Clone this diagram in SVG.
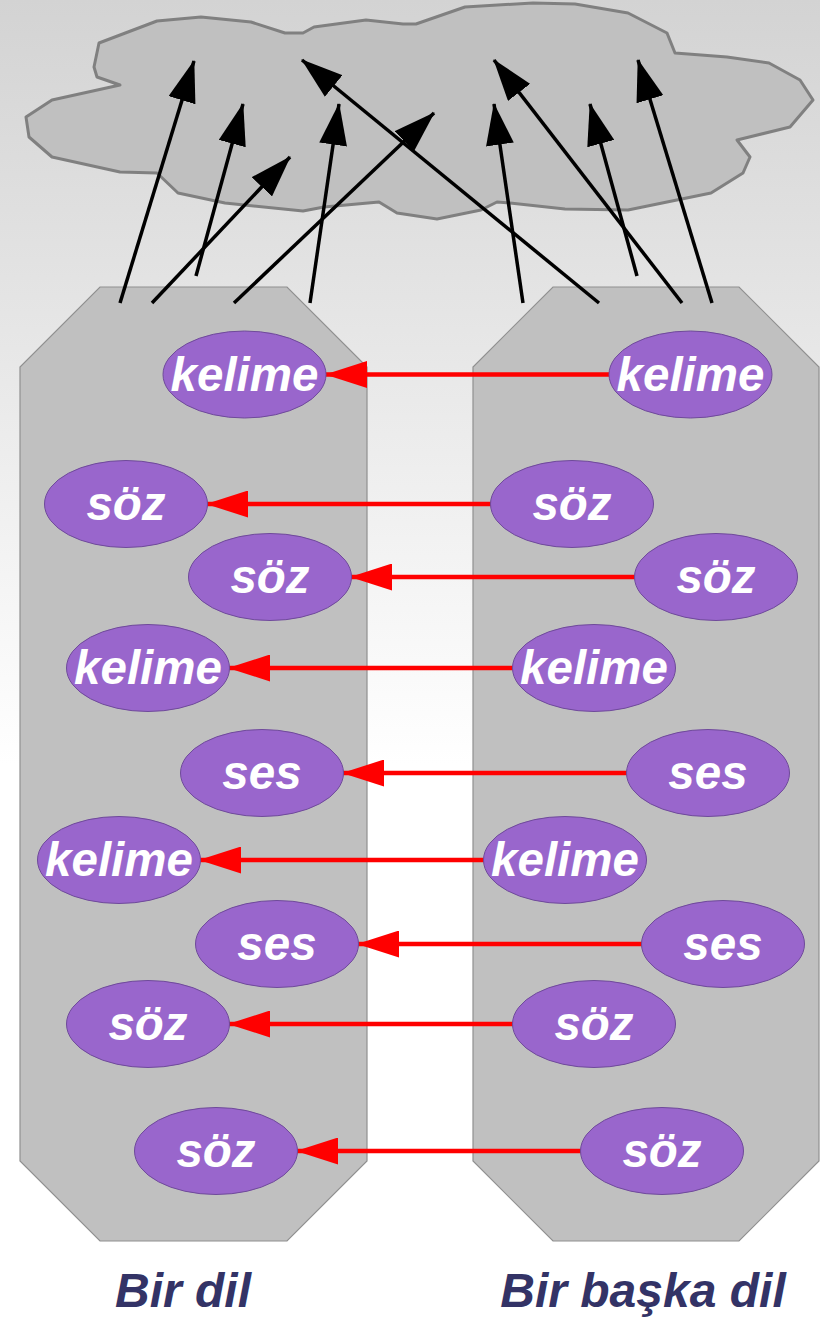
<svg xmlns="http://www.w3.org/2000/svg" width="820" height="1319" viewBox="0 0 820 1319">
  <defs>
    <linearGradient id="bg" x1="0" y1="0" x2="0" y2="1">
      <stop offset="0" stop-color="#d3d3d3"/>
      <stop offset="0.58" stop-color="#ffffff"/>
      <stop offset="1" stop-color="#ffffff"/>
    </linearGradient>
    <marker id="redHead" viewBox="0 0 42 27" refX="41" refY="13.5" markerWidth="42" markerHeight="27" markerUnits="userSpaceOnUse" orient="auto">
      <path d="M0,0 L42,13.5 L0,27 Z" fill="#ff0000"/>
    </marker>
    <marker id="bh" viewBox="0 0 42 28" refX="41" refY="14" markerWidth="42" markerHeight="28" markerUnits="userSpaceOnUse" orient="auto">
      <path d="M0,0 L42,14 L0,28 Z" fill="#000"/>
    </marker>
  </defs>
  <style>
    .panel { fill: #c0c0c0; stroke: #909090; stroke-width: 1.2; }
    .cloud { fill: #c0c0c0; stroke: #808080; stroke-width: 3; stroke-linejoin: round; }
    .node ellipse { fill: #9966cc; stroke: #6f4a9a; stroke-width: 1; }
    .node text { font-family: "Liberation Sans", Arial, sans-serif; font-weight: bold; font-style: italic; font-size: 47.5px; fill: #ffffff; text-anchor: middle; }
    .up { stroke: #000; stroke-width: 3.5; fill: none; marker-end: url(#bh); }
    .xl { stroke: #ff0000; stroke-width: 4.5; fill: none; marker-end: url(#redHead); }
    .label { font-family: "Liberation Sans", Arial, sans-serif; font-weight: bold; font-style: italic; font-size: 48px; fill: #333366; text-anchor: middle; }
  </style>

  <rect x="0" y="0" width="820" height="1319" fill="url(#bg)"/>

  <!-- shared meaning cloud -->
  <g id="cloud">
    <path class="cloud" d="M99,43 L157,21 L201,17 L251,22 L285,33 L303,33 L314,27 L366,20 L403,24 L416,24 L465,7 L533,3 L575,4 L628,13 L667,33 L675,53 L727,57 L769,63 L800,80 L813,100 L790,127 L737,140 L750,157 L743,173 L711,193 L628,210 L565,209 L510,203 L497,202 L481,210 L437,219 L397,213 L379,202 L324,207 L303,211 L225,203 L178,193 L157,173 L120,172 L52,157 L29,137 L26,117 L52,100 L120,85 L97,77 L94,67 Z"/>
  </g>

  <!-- language panels -->
  <g id="panel-left">
    <polygon class="panel" points="100,287 287,287 367,367 367,1161 287,1241 100,1241 20,1161 20,367"/>
  </g>
  <g id="panel-right">
    <polygon class="panel" points="553,287 739,287 819,367 819,1161 739,1241 553,1241 473,1161 473,367"/>
  </g>

  <!-- connectors -->
  <g id="connectors">
    <!-- panels up to the cloud -->
    <line class="up" x1="120" y1="303" x2="194" y2="61"/>
    <line class="up" x1="196" y1="276" x2="243" y2="104"/>
    <line class="up" x1="152" y1="303" x2="290" y2="157"/>
    <line class="up" x1="234" y1="303" x2="434" y2="113"/>
    <line class="up" x1="310" y1="303" x2="339" y2="104"/>
    <line class="up" x1="599" y1="303" x2="302" y2="60"/>
    <line class="up" x1="523" y1="303" x2="494" y2="104"/>
    <line class="up" x1="682" y1="303" x2="494" y2="60"/>
    <line class="up" x1="637" y1="276" x2="590" y2="104"/>
    <line class="up" x1="712" y1="303" x2="638" y2="60"/>
    <!-- word to word -->
    <line class="xl" x1="609" y1="374.5" x2="326" y2="374.5"/>
    <line class="xl" x1="491" y1="504" x2="207" y2="504"/>
    <line class="xl" x1="635" y1="577" x2="351" y2="577"/>
    <line class="xl" x1="513" y1="668" x2="229" y2="668"/>
    <line class="xl" x1="627" y1="773" x2="343" y2="773"/>
    <line class="xl" x1="484" y1="860" x2="200" y2="860"/>
    <line class="xl" x1="642" y1="944" x2="358" y2="944"/>
    <line class="xl" x1="513" y1="1024" x2="229" y2="1024"/>
    <line class="xl" x1="581" y1="1151" x2="297" y2="1151"/>
  </g>

  <!-- left language words -->
  <g id="l1" class="node"><ellipse cx="244.5" cy="374.5" rx="81.5" ry="43.5"/><text x="244.5" y="391">kelime</text></g>
  <g id="l2" class="node"><ellipse cx="126" cy="504" rx="81.5" ry="43.5"/><text x="126" y="520">söz</text></g>
  <g id="l3" class="node"><ellipse cx="270" cy="577" rx="81.5" ry="43.5"/><text x="270" y="593">söz</text></g>
  <g id="l4" class="node"><ellipse cx="148" cy="668" rx="81.5" ry="43.5"/><text x="148" y="684">kelime</text></g>
  <g id="l5" class="node"><ellipse cx="262" cy="773" rx="81.5" ry="43.5"/><text x="262" y="789">ses</text></g>
  <g id="l6" class="node"><ellipse cx="119" cy="860" rx="81.5" ry="43.5"/><text x="119" y="876">kelime</text></g>
  <g id="l7" class="node"><ellipse cx="277" cy="944" rx="81.5" ry="43.5"/><text x="277" y="960">ses</text></g>
  <g id="l8" class="node"><ellipse cx="148" cy="1024" rx="81.5" ry="43.5"/><text x="148" y="1040">söz</text></g>
  <g id="l9" class="node"><ellipse cx="216" cy="1151" rx="81.5" ry="43.5"/><text x="216" y="1167">söz</text></g>

  <!-- other language words -->
  <g id="r1" class="node"><ellipse cx="690.5" cy="374.5" rx="81.5" ry="43.5"/><text x="690.5" y="391">kelime</text></g>
  <g id="r2" class="node"><ellipse cx="572" cy="504" rx="81.5" ry="43.5"/><text x="572" y="520">söz</text></g>
  <g id="r3" class="node"><ellipse cx="716" cy="577" rx="81.5" ry="43.5"/><text x="716" y="593">söz</text></g>
  <g id="r4" class="node"><ellipse cx="594" cy="668" rx="81.5" ry="43.5"/><text x="594" y="684">kelime</text></g>
  <g id="r5" class="node"><ellipse cx="708" cy="773" rx="81.5" ry="43.5"/><text x="708" y="789">ses</text></g>
  <g id="r6" class="node"><ellipse cx="565" cy="860" rx="81.5" ry="43.5"/><text x="565" y="876">kelime</text></g>
  <g id="r7" class="node"><ellipse cx="723" cy="944" rx="81.5" ry="43.5"/><text x="723" y="960">ses</text></g>
  <g id="r8" class="node"><ellipse cx="594" cy="1024" rx="81.5" ry="43.5"/><text x="594" y="1040">söz</text></g>
  <g id="r9" class="node"><ellipse cx="662" cy="1151" rx="81.5" ry="43.5"/><text x="662" y="1167">söz</text></g>

  <!-- captions -->
  <g id="caption-left"><text class="label" x="183" y="1307">Bir dil</text></g>
  <g id="caption-right"><text class="label" x="643" y="1307">Bir başka dil</text></g>
</svg>
